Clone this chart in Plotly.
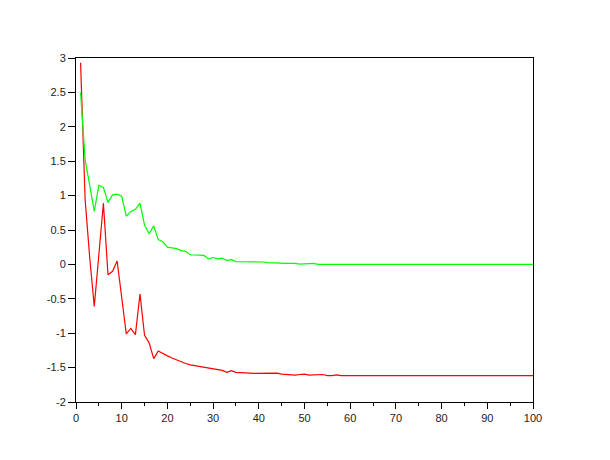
import plotly.graph_objects as go

x_vals = list(range(1, 101))

red = [2.93, 0.94, 0.10, -0.61, 0.14, 0.89, -0.15, -0.10, 0.05, -0.47,
       -1.01, -0.93, -1.02, -0.43, -1.03, -1.14, -1.37, -1.26, -1.30, -1.33,
       -1.36, -1.39, -1.42, -1.44, -1.46, -1.47, -1.49, -1.50, -1.51, -1.51,
       -1.52, -1.54, -1.57, -1.545, -1.57, -1.57, -1.57, -1.58, -1.585, -1.585,
       -1.585, -1.585, -1.59, -1.58, -1.595, -1.60, -1.60, -1.61, -1.60, -1.595,
       -1.61, -1.61, -1.61, -1.60, -1.617, -1.617, -1.605, -1.617] + [-1.617] * 42

green = [2.50, 1.52, 1.15, 0.77, 1.15, 1.12, 0.90, 1.01, 1.02, 0.99,
         0.70, 0.77, 0.80, 0.89, 0.57, 0.45, 0.56, 0.36, 0.33, 0.25,
         0.24, 0.23, 0.20, 0.19, 0.14, 0.14, 0.14, 0.13, 0.08, 0.10,
         0.08, 0.09, 0.06, 0.07, 0.04, 0.04, 0.04, 0.04, 0.04, 0.03,
         0.035, 0.025, 0.02, 0.016, 0.016, 0.016, 0.016, 0.016, 0.005, 0.01,
         0.005, 0.015] + [0.0] * 48

x_ticks = [0, 10, 20, 30, 40, 50, 60, 70, 80, 90, 100]
y_ticks = [-2, -1.5, -1, -0.5, 0, 0.5, 1, 1.5, 2, 2.5, 3]
y_tick_text = ["-2", "-1.5", "-1", "-0.5", "0", "0.5", "1", "1.5", "2", "2.5", "3"]

fig = go.Figure()
fig.add_trace(go.Scatter(x=x_vals, y=red, mode="lines",
                         line=dict(color="#ff0000", width=1.2), showlegend=False))
fig.add_trace(go.Scatter(x=x_vals, y=green, mode="lines",
                         line=dict(color="#00ff00", width=1.2), showlegend=False))

axis_common = dict(showgrid=False, zeroline=False, showline=True, linecolor="black",
                   linewidth=1, mirror=True, ticks="outside", tickcolor="black",
                   tickwidth=1, tickfont=dict(family="Liberation Sans, Arial, sans-serif",
                                              size=11, color="#222222"))

fig.update_layout(
    width=610, height=460,
    margin=dict(l=68, r=85, t=50, b=66),
    paper_bgcolor="white", plot_bgcolor="white",
    xaxis=dict(range=[0, 100], tickvals=x_ticks, ticklen=6,
               minor=dict(dtick=5, ticklen=3, ticks="outside", tickcolor="black", showgrid=False),
               **axis_common),
    yaxis=dict(range=[-2, 3], tickvals=y_ticks, ticktext=y_tick_text, ticklen=7,
               **axis_common),
)

fig.write_html("out.html")
